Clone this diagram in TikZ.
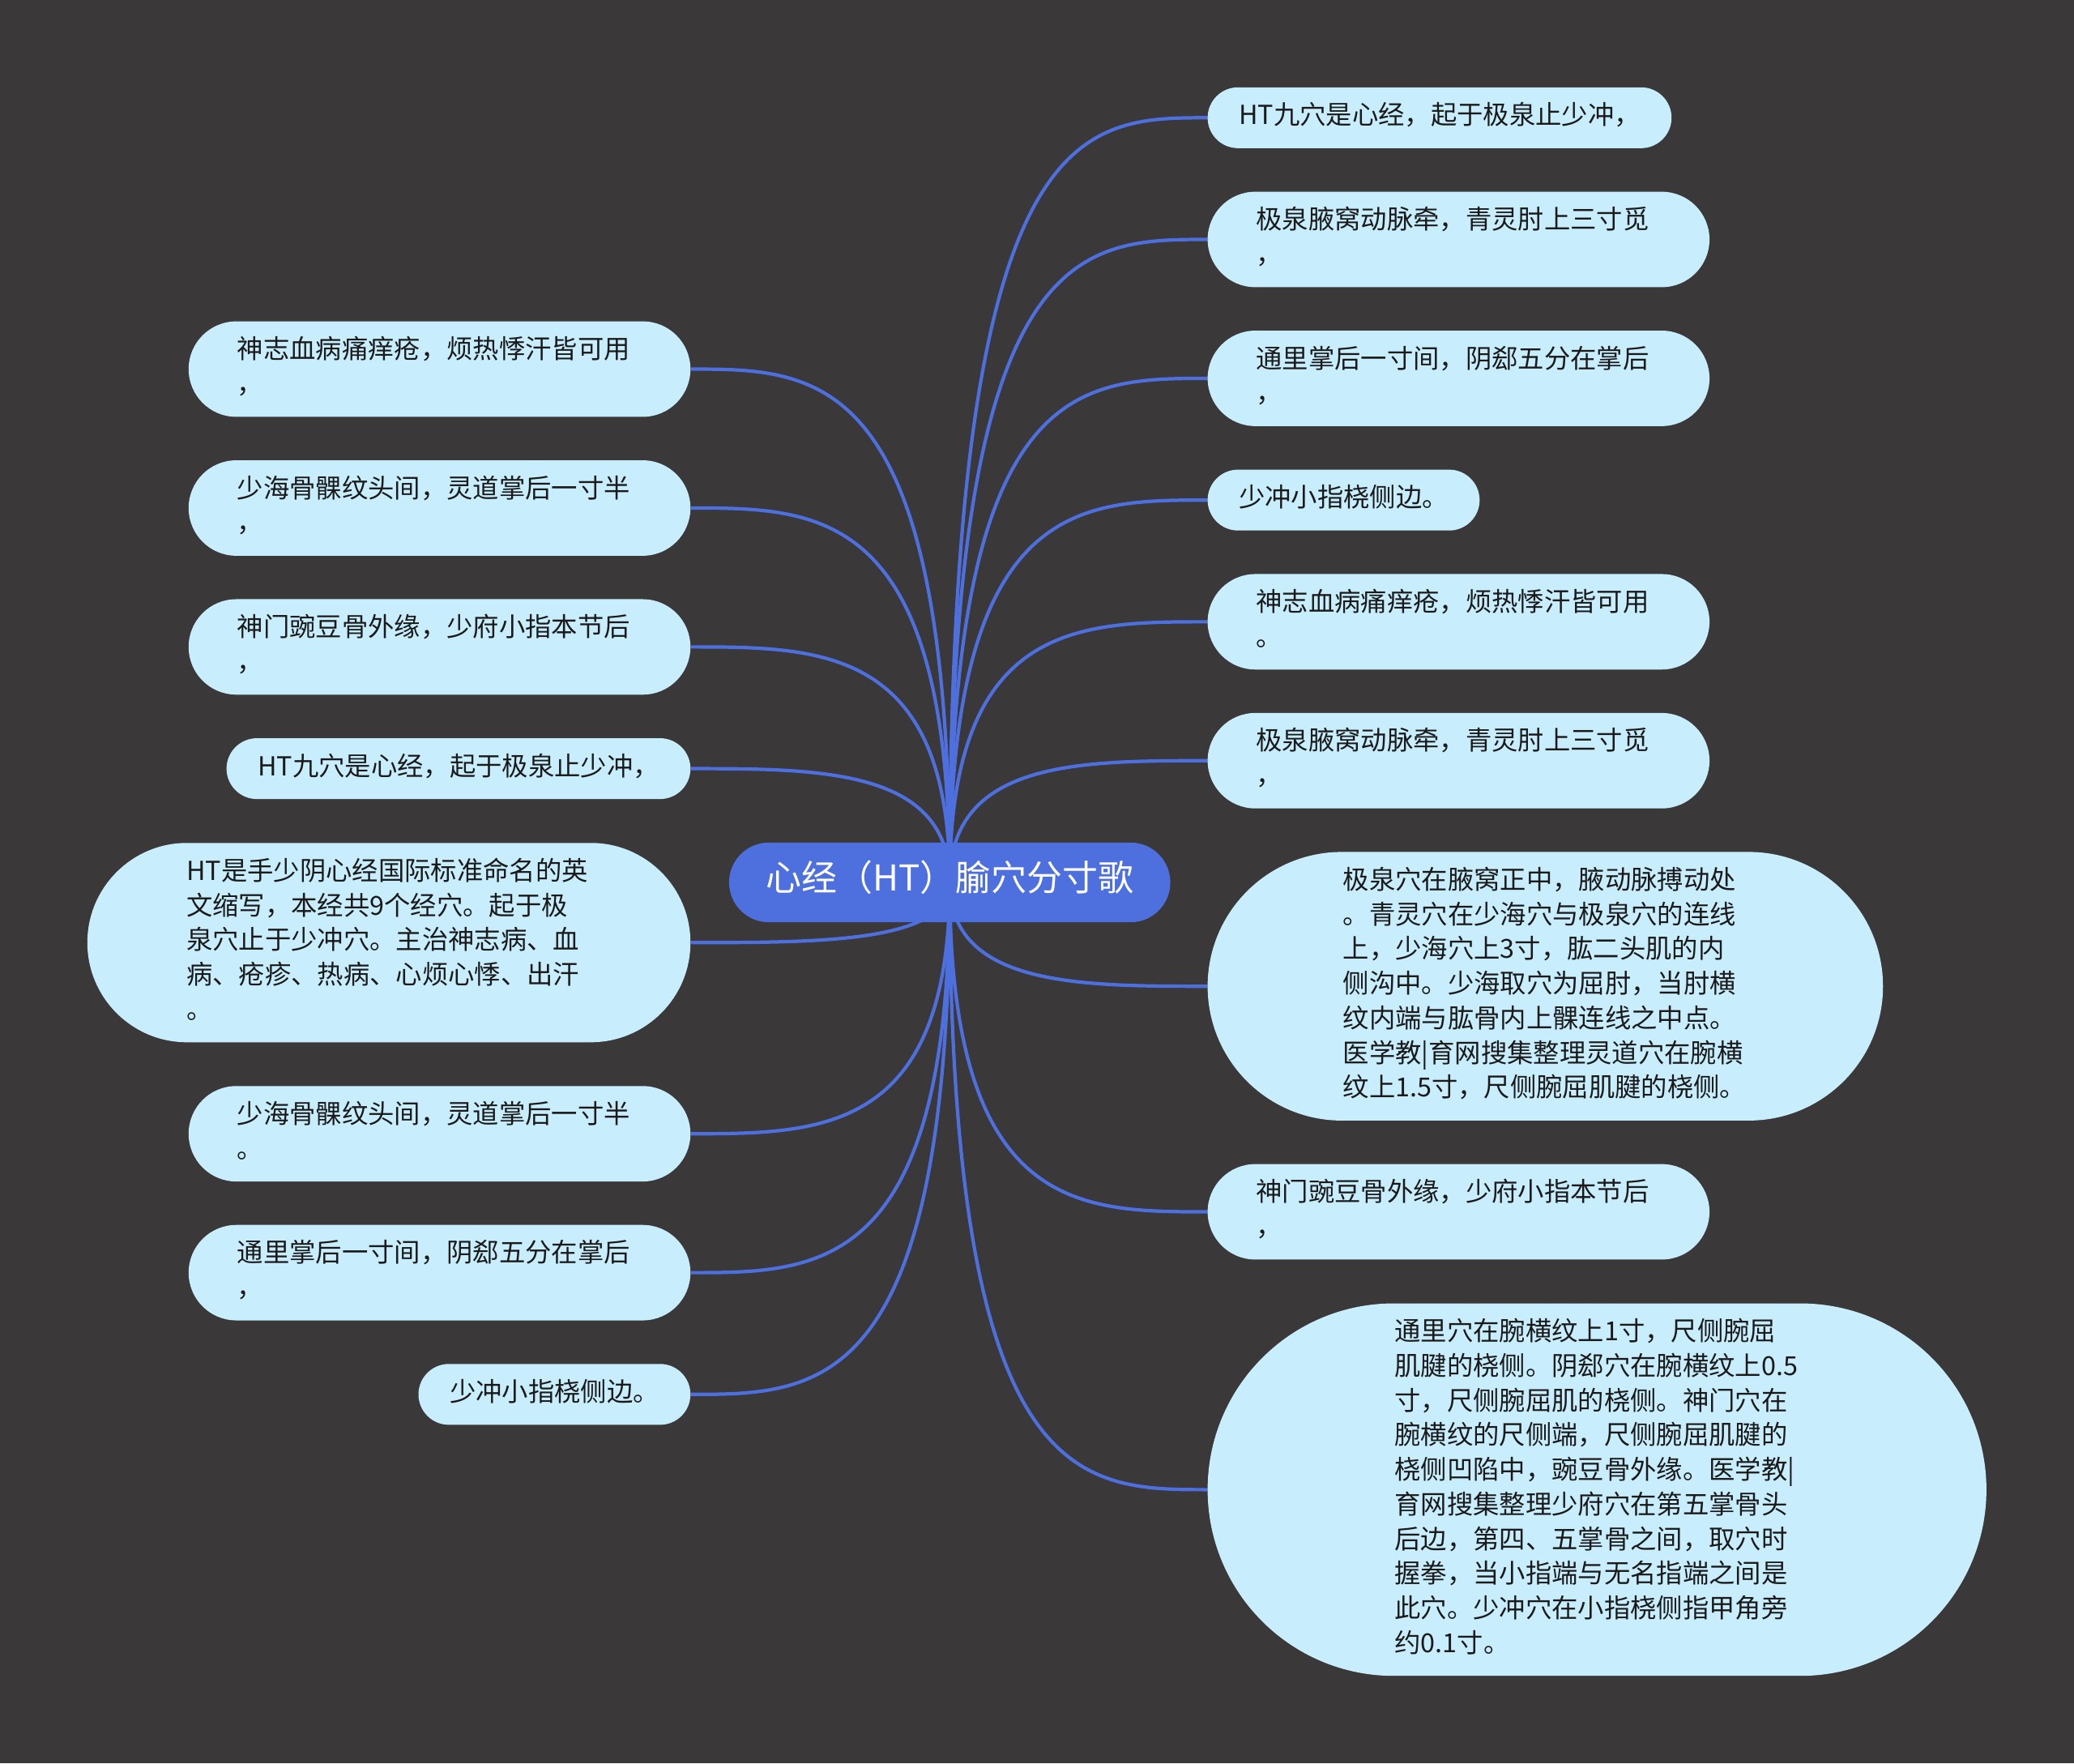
\documentclass[tikz,border=0pt]{standalone}
\usepackage{fontspec}
\setmainfont{Noto Sans CJK SC}
\usetikzlibrary{calc,positioning,shapes.misc}
\pgfdeclarelayer{canvas}
\pgfdeclarelayer{links}
\pgfsetlayers{canvas,links,main}

\begin{document}
\begin{tikzpicture}[
    x=0.016327cm, y=-0.016327cm,
    every node/.style={font=\fontsize{9.2}{12.16}\selectfont},
    leaf/.style={rounded rectangle, fill=leaffill, text=leaftext,
      inner xsep=9.06pt, inner ysep=4.6pt, outer sep=0pt, align=left,
      execute at begin node=\strut, execute at end node=\strut},
    wrapleaf/.style={leaf, text width=142.1pt, inner xsep=#1},
    wrapleaf/.default=11.85pt,
    hub/.style={rounded rectangle, fill=hubblue, text=white,
      font=\fontsize{12.5}{15}\selectfont, inner xsep=10.7pt, inner ysep=6.4pt,
      outer sep=0pt, execute at begin node=\strut},
    link/.style={hubblue, line width=1.2pt},
  ]
    \definecolor{canvasgrey}{HTML}{3A3839}
    \definecolor{leaffill}{HTML}{C8EEFD}
    \definecolor{leaftext}{HTML}{1A1A1A}
    \definecolor{hubblue}{HTML}{4E6FDE}

    \useasboundingbox (0,0) rectangle (1568,1333);
    \begin{pgfonlayer}{canvas}
      \fill[canvasgrey] (0,0) rectangle (1568,1333);
    \end{pgfonlayer}

    % ============ centre ============
    \node[hub] (hub) at (718,667) {心经（HT）腧穴分寸歌};

    % ============ right branch ============
    \node[leaf, anchor=west] (r1) at (913,89) {HT九穴是心经，起于极泉止少冲，};
    \node[wrapleaf, anchor=west] (r2) at (913,181) {极泉腋窝动脉牵，青灵肘上三寸觅\\，};
    \node[wrapleaf, anchor=west] (r3) at (913,286) {通里掌后一寸间，阴郄五分在掌后\\，};
    \node[leaf, anchor=west] (r4) at (913,378) {少冲小指桡侧边。};
    \node[wrapleaf, anchor=west] (r5) at (913,470) {神志血病痛痒疮，烦热悸汗皆可用\\。};
    \node[wrapleaf, anchor=west] (r6) at (913,575) {极泉腋窝动脉牵，青灵肘上三寸觅\\，};
    \node[wrapleaf=20.7pt, anchor=west] (r7) at (913,745.5) {极泉穴在腋窝正中，腋动脉搏动处\\。青灵穴在少海穴与极泉穴的连线\\上，少海穴上3寸，肱二头肌的内\\侧沟中。少海取穴为屈肘，当肘横\\纹内端与肱骨内上髁连线之中点。\\医学教|育网搜集整理灵道穴在腕横\\纹上1.5寸，尺侧腕屈肌腱的桡侧。};
    \node[wrapleaf, anchor=west] (r8) at (913,916) {神门豌豆骨外缘，少府小指本节后\\，};
    \node[wrapleaf=24.4pt, anchor=west] (r9) at (913,1126) {通里穴在腕横纹上1寸，尺侧腕屈\\肌腱的桡侧。阴郄穴在腕横纹上0.5\\寸，尺侧腕屈肌的桡侧。神门穴在\\腕横纹的尺侧端，尺侧腕屈肌腱的\\桡侧凹陷中，豌豆骨外缘。医学教|\\育网搜集整理少府穴在第五掌骨头\\后边，第四、五掌骨之间，取穴时\\握拳，当小指端与无名指端之间是\\此穴。少冲穴在小指桡侧指甲角旁\\约0.1寸。};

    % ============ left branch ============
    \node[wrapleaf, anchor=east] (l1) at (522,279) {神志血病痛痒疮，烦热悸汗皆可用\\，};
    \node[wrapleaf, anchor=east] (l2) at (522,384) {少海骨髁纹头间，灵道掌后一寸半\\，};
    \node[wrapleaf, anchor=east] (l3) at (522,489) {神门豌豆骨外缘，少府小指本节后\\，};
    \node[leaf, anchor=east] (l4) at (522,581) {HT九穴是心经，起于极泉止少冲，};
    \node[wrapleaf=17.2pt, anchor=east] (l5) at (522,712.5) {HT是手少阴心经国际标准命名的英\\文缩写，本经共9个经穴。起于极\\泉穴止于少冲穴。主治神志病、血\\病、疮疹、热病、心烦心悸、出汗\\。};
    \node[wrapleaf, anchor=east] (l6) at (522,857) {少海骨髁纹头间，灵道掌后一寸半\\。};
    \node[wrapleaf, anchor=east] (l7) at (522,962) {通里掌后一寸间，阴郄五分在掌后\\，};
    \node[leaf, anchor=east] (l8) at (522,1054) {少冲小指桡侧边。};

    % ============ links ============
    \begin{pgfonlayer}{links}
      \foreach \i in {1,...,9}{
        \draw[link] (hub.center) .. controls (hub.center |- r\i.west)
          and ($(hub.center |- r\i.west)!0.5!(r\i.west)$) .. (r\i.west);
      }
      \foreach \i in {1,...,8}{
        \draw[link] (hub.center) .. controls (hub.center |- l\i.east)
          and ($(hub.center |- l\i.east)!0.5!(l\i.east)$) .. (l\i.east);
      }
    \end{pgfonlayer}
  \end{tikzpicture}
\end{document}
